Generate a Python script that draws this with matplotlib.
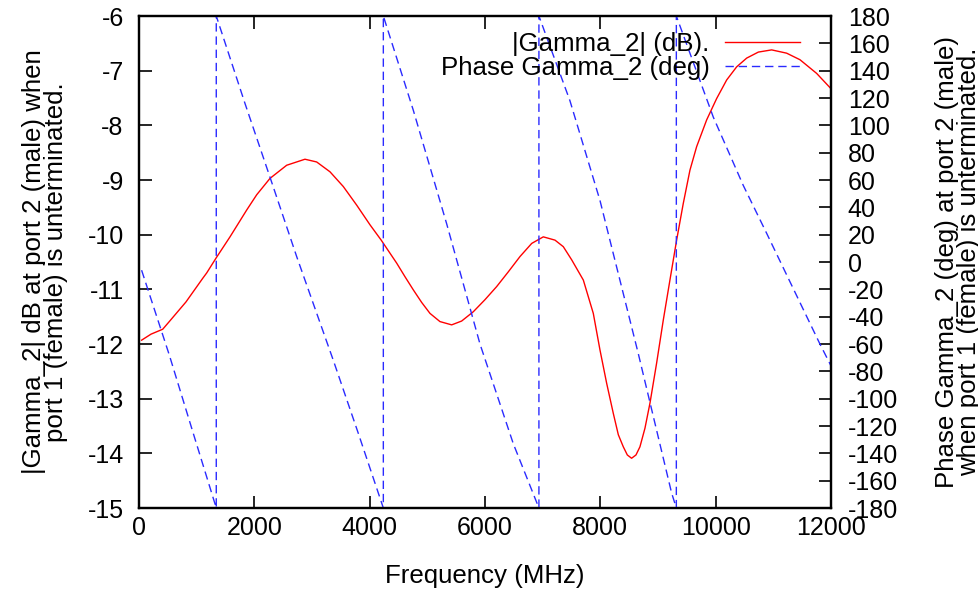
import numpy as np
import matplotlib
matplotlib.use("Agg")
import matplotlib.pyplot as plt

# --- valori ---
freq_mag = [45, 208, 411, 525, 815, 1104, 1174, 1335, 1578, 1867, 2041, 2272,
            2561, 2878, 3081, 3312, 3543, 3775, 4006, 4200, 4468, 4613, 4757,
            4902, 5046, 5219, 5422, 5595, 5797, 5999, 6202, 6404, 6607, 6810,
            7011, 7214, 7358, 7503, 7705, 7878, 7994, 8110, 8225, 8312, 8398,
            8468, 8542, 8618, 8687, 8774, 8861, 8976, 9092, 9207, 9323, 9438,
            9554, 9670, 9844, 10017, 10191, 10364, 10538, 10740, 10971, 11231,
            11462, 11751, 12000]
gamma_db = [-11.93, -11.82, -11.73, -11.59, -11.23, -10.80, -10.70, -10.43,
            -10.04, -9.55, -9.27, -8.97, -8.73, -8.62, -8.67, -8.85, -9.12,
            -9.46, -9.82, -10.10, -10.52, -10.77, -11.01, -11.24, -11.44,
            -11.59, -11.65, -11.58, -11.41, -11.19, -10.95, -10.68, -10.40,
            -10.16, -10.04, -10.10, -10.22, -10.46, -10.83, -11.44, -12.11,
            -12.72, -13.27, -13.66, -13.88, -14.03, -14.09, -14.03, -13.88,
            -13.54, -13.08, -12.35, -11.56, -10.83, -10.10, -9.43, -8.82,
            -8.39, -7.90, -7.51, -7.17, -6.93, -6.77, -6.66, -6.62, -6.68,
            -6.80, -7.05, -7.33]

freq_ph = [45, 525, 931, 1340,
           1340, 1838, 2272, 2734, 3370, 3800, 4237,
           4237, 4757, 5335, 5913, 6491, 6935,
           6935, 7473, 7994, 8427, 8658, 9236, 9318,
           9318, 9959, 10479, 10884, 11808, 12000]
phase_deg = [-6, -68, -124, -180,
             180, 116, 62, 4, -72, -125, -180,
             180, 111, 28, -60, -133, -180,
             180, 118, 45, -28, -67, -169, -180,
             180, 106, 56, 21, -60, -76]

xticks = np.arange(0, 12001, 2000)
yticks = np.arange(-15, -5, 1)
y2ticks = np.arange(-180, 181, 20)

plt.rcParams['font.family'] = ['Liberation Sans', 'DejaVu Sans']
plt.rcParams['axes.unicode_minus'] = False
fs = 18
fs_lab = 18.6

fig = plt.figure(figsize=(9.79, 5.9), dpi=100)
ax = fig.add_axes([139/979, 1 - 508/590, 692/979, 492/590])
ax2 = ax.twinx()

l1, = ax.plot(freq_mag, gamma_db, color='#ff0000', lw=1.0,
              label='|Gamma_2| (dB).')
l2, = ax2.plot(freq_ph, phase_deg, color='#2a2aff', lw=1.0,
               dashes=(6, 3.5), label='Phase Gamma_2 (deg)')

ax.set_xlim(0, 12000)
ax.set_ylim(-15, -6)
ax2.set_ylim(-180, 180)
ax.set_xticks(xticks)
ax.set_yticks(yticks)
ax2.set_yticks(y2ticks)

ax.tick_params(axis='x', direction='in', length=9, width=1.2, top=True,
               labelsize=fs, pad=6)
ax.tick_params(axis='y', direction='in', length=9, width=1.2, right=False,
               labelsize=fs, pad=11)
ax2.tick_params(axis='y', direction='in', length=9, width=1.2,
                labelsize=fs, pad=12)
for a in (ax, ax2):
    for s in a.spines.values():
        s.set_linewidth(1.6)

ax.set_xlabel('Frequency (MHz)', fontsize=fs_lab)
ax.xaxis.set_label_coords(0.5, -0.113)
ax.set_ylabel('|Gamma_2| dB at port 2 (male) when\nport 1 (female) is unterminated.',
              fontsize=fs_lab, linespacing=0.9)
ax.yaxis.set_label_coords(-0.102, 0.5)
ax2.set_ylabel('Phase Gamma_2 (deg) at port 2 (male)\nwhen port 1 (female) is unterminated.',
               fontsize=fs_lab, linespacing=0.9, rotation=90)
ax2.yaxis.set_label_coords(1.150, 0.5)

leg = ax2.legend(handles=[l1, l2], loc='upper right',
                 bbox_to_anchor=((800 - 139) / 692, 0.967),
                 frameon=False, markerfirst=False, fontsize=fs_lab,
                 handlelength=2.9, handletextpad=0.6, labelspacing=0.0,
                 borderpad=0, borderaxespad=0)

fig.savefig('out.png', dpi=100)
